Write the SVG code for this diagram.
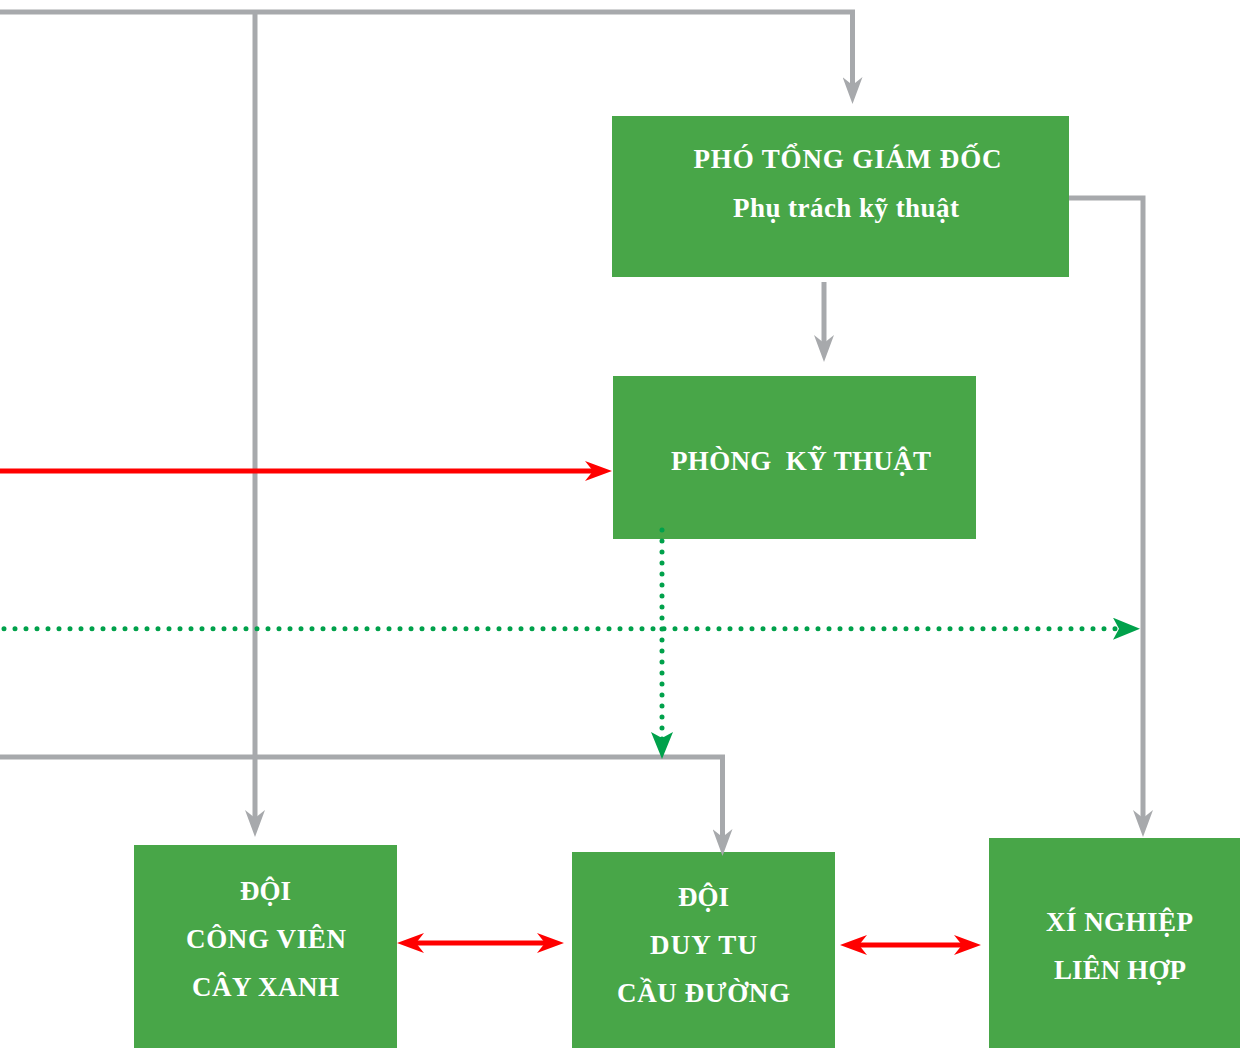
<svg xmlns="http://www.w3.org/2000/svg" width="1240" height="1048" viewBox="0 0 1240 1048">
<style>
.box{fill:#48A648}
.t{font-family:"Liberation Serif","Times New Roman",serif;font-weight:bold;font-size:27px;fill:#FFFFFF;text-anchor:middle}
.g{fill:none;stroke:#A7A9AC;stroke-width:5}
.r{fill:none;stroke:#FF0000;stroke-width:5}
.d{fill:none;stroke:#00A14B;stroke-width:5;stroke-dasharray:0 11;stroke-linecap:round}
</style>
<defs>
<marker id="ag" viewBox="0 0 27 20" refX="8" refY="10" markerWidth="27" markerHeight="20" markerUnits="userSpaceOnUse" orient="auto"><path d="M0,0 L27,10 L0,20 L8,10 Z" fill="#A7A9AC"/></marker>
<marker id="ar" viewBox="0 0 27 20" refX="8" refY="10" markerWidth="27" markerHeight="20" markerUnits="userSpaceOnUse" orient="auto-start-reverse"><path d="M0,0 L27,10 L0,20 L8,10 Z" fill="#FF0000"/></marker>
<marker id="ad" viewBox="0 0 27 22" refX="8" refY="11" markerWidth="27" markerHeight="22" markerUnits="userSpaceOnUse" orient="auto"><path d="M0,0 L27,11 L0,22 L6,11 Z" fill="#00A14B"/></marker>
</defs>
<g id="pho-tong-giam-doc">
<rect class="box" x="612" y="116" width="457" height="161"/>
<text class="t" x="847.5" y="168" textLength="308" lengthAdjust="spacing">PHÓ TỔNG GIÁM ĐỐC</text>
<text class="t" x="846" y="217" textLength="226" lengthAdjust="spacing">Phụ trách kỹ thuật</text>
</g>
<g id="phong-ky-thuat">
<rect class="box" x="613" y="376" width="363" height="163"/>
<text class="t" x="801" y="470" textLength="260" lengthAdjust="spacing" style="white-space:pre">PHÒNG  KỸ THUẬT</text>
</g>
<g id="doi-cong-vien">
<rect class="box" x="134" y="845" width="263" height="203"/>
<text class="t" x="265.5" y="900">ĐỘI</text>
<text class="t" x="266" y="948" textLength="160" lengthAdjust="spacing">CÔNG VIÊN</text>
<text class="t" x="265.5" y="996" textLength="147" lengthAdjust="spacing">CÂY XANH</text>
</g>
<g id="doi-duy-tu">
<rect class="box" x="572" y="852" width="263" height="196"/>
<text class="t" x="703.5" y="906">ĐỘI</text>
<text class="t" x="703.5" y="954" textLength="107" lengthAdjust="spacing">DUY TU</text>
<text class="t" x="703.5" y="1002" textLength="173" lengthAdjust="spacing">CẦU ĐƯỜNG</text>
</g>
<g id="xi-nghiep">
<rect class="box" x="989" y="838" width="251" height="210"/>
<text class="t" x="1119.5" y="931" textLength="147" lengthAdjust="spacing">XÍ NGHIỆP</text>
<text class="t" x="1120" y="979" textLength="132" lengthAdjust="spacing">LIÊN HỢP</text>
</g>
<g id="connectors">
<path class="g" d="M0,12 H852.5 V85" marker-end="url(#ag)"/>
<path class="g" d="M255,12 V818" marker-end="url(#ag)"/>
<path class="g" d="M1069,198 H1143 V818" marker-end="url(#ag)"/>
<path class="g" d="M824,282 V343" marker-end="url(#ag)"/>
<path class="g" d="M0,757 H722.5 V837" marker-end="url(#ag)"/>
<path class="r" d="M0,471 H593" marker-end="url(#ar)"/>
<path class="d" d="M4,628.7 H1121" marker-end="url(#ad)"/>
<path class="d" d="M662,530 V740" marker-end="url(#ad)"/>
<path class="r" d="M416,943 H545" marker-start="url(#ar)" marker-end="url(#ar)"/>
<path class="r" d="M859,945 H962" marker-start="url(#ar)" marker-end="url(#ar)"/>
</g>
</svg>
